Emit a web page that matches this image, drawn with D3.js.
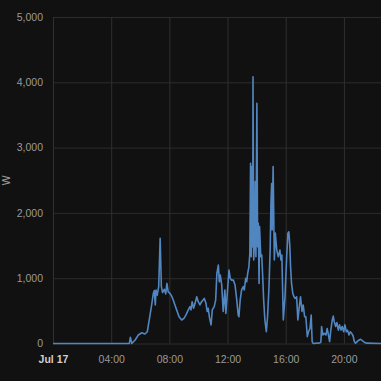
<!DOCTYPE html>
<html>
<head>
<meta charset="utf-8">
<script src="https://cdn.jsdelivr.net/npm/d3@7"></script>
<style>
	html, body { margin: 0; padding: 0; background: #111111; }
	svg { display: block; }
</style>
</head>
<body>
<div id="chart"></div>
<script>
// readings of Jul 17, time of day and power in W
const times = [
	"00:00", "05:15", "05:19", "05:25", "05:38", "05:52", "06:06", "06:19", "06:29", "06:37",
	"06:47", "06:54", "06:58", "07:02", "07:05", "07:10", "07:16", "07:22", "07:27", "07:32",
	"07:39", "07:45", "07:50", "07:55", "08:02", "08:09", "08:16", "08:23", "08:30", "08:40",
	"08:51", "09:00", "09:08", "09:18", "09:25", "09:29", "09:34", "09:40", "09:46", "09:53",
	"09:59", "10:06", "10:13", "10:24", "10:31", "10:36", "10:40", "10:46", "10:52", "10:57",
	"11:05", "11:11", "11:16", "11:22", "11:26", "11:30", "11:36", "11:42", "11:49", "11:53",
	"12:00", "12:06", "12:11", "12:17", "12:24", "12:31", "12:38", "12:44", "12:47", "12:52",
	"12:58", "13:05", "13:09", "13:15", "13:19", "13:23", "13:28", "13:32", "13:35", "13:38",
	"13:41", "13:44", "13:45", "13:48", "13:52", "13:54", "13:57", "14:01", "14:04", "14:07",
	"14:10", "14:12", "14:17", "14:21", "14:25", "14:29", "14:34", "14:40", "14:45", "14:51",
	"14:56", "14:59", "15:02", "15:04", "15:08", "15:13", "15:17", "15:23", "15:29", "15:36",
	"15:40", "15:44", "15:50", "15:57", "16:04", "16:09", "16:13", "16:17", "16:20", "16:24",
	"16:29", "16:34", "16:39", "16:45", "16:50", "16:56", "17:01", "17:07", "17:12", "17:18",
	"17:23", "17:29", "17:34", "17:40", "17:45", "17:49", "17:53", "18:21", "18:25", "18:28",
	"18:33", "18:39", "18:46", "18:51", "18:55", "19:01", "19:06", "19:12", "19:16", "19:20",
	"19:26", "19:31", "19:37", "19:42", "19:48", "19:53", "19:59", "20:04", "20:10", "20:15",
	"20:21", "20:26", "20:32", "20:38", "20:43", "20:48", "20:59", "21:09", "21:17", "21:24",
	"21:34", "22:33"
];
const watts = [
	0, 0, 95, 0, 50, 130, 165, 145, 180, 360,
	590, 770, 810, 590, 820, 740, 870, 1610, 870, 780,
	830, 760, 920, 790, 770, 730, 665, 590, 515, 410,
	360, 385, 435, 515, 565, 515, 640, 540, 615, 715,
	640, 590, 640, 690, 615, 490, 540, 385, 285, 515,
	565, 665, 1075, 1200, 945, 1050, 895, 490, 820, 460,
	820, 1125, 1000, 970, 970, 895, 665, 435, 410, 665,
	820, 870, 820, 1000, 945, 1075, 1175, 1380, 2760, 1330,
	2710, 1480, 4085, 1280, 1635, 2480, 1330, 3680, 1480, 1840,
	920, 1790, 1330, 1355, 1025, 665, 360, 180, 410, 870,
	1480, 2145, 2450, 1740, 2710, 1280, 1690, 1430, 1330, 1430,
	1280, 1355, 360, 715, 1330, 1690, 1710, 1480, 1175, 920,
	770, 715, 690, 715, 360, 565, 715, 490, 590, 410,
	410, 105, 180, 230, 435, 30, 0, 10, 20, 260,
	130, 155, 130, 230, 155, 30, 205, 360, 420, 335,
	260, 320, 205, 285, 205, 260, 180, 285, 180, 205,
	130, 180, 155, 115, 30, 5, 45, 65, 40, 20,
	5, 0
];
const yTicks = [0, 1000, 2000, 3000, 4000, 5000];
const xTickHours = [0, 4, 8, 12, 16, 20];

const WIDTH = 381;
const HEIGHT = 381;
const margin = {top: 17, right: 0, bottom: 37.5, left: 53};
const LINE_COLOR = "#5286c1";
const GRID_COLOR = "#2c2c2c";
const TEXT_COLOR = "#9a9a9a";
const FONT_FAMILY = "Inter, Roboto, sans-serif";

const day = "2021-07-17";
const parseTime = d3.timeParse("%Y-%m-%d %H:%M");
const data = times.map((t, i) => ({time: parseTime(`${day} ${t}`), value: watts[i]}));

const svg = d3.select("#chart").append("svg")
	.attr("width", WIDTH)
	.attr("height", HEIGHT)
	.style("font-family", FONT_FAMILY);

svg.append("rect")
	.attr("width", WIDTH)
	.attr("height", HEIGHT)
	.attr("fill", "#111111");

const x = d3.scaleTime()
	.domain([parseTime(`${day} 00:00`), parseTime(`${day} 22:33`)])
	.range([margin.left, WIDTH - margin.right]);

const y = d3.scaleLinear()
	.domain([0, 5000])
	.range([HEIGHT - margin.bottom, margin.top]);

// y axis with horizontal grid
svg.append("g")
	.attr("class", "y-axis")
	.attr("transform", `translate(${margin.left},0)`)
	.call(d3.axisLeft(y)
		.tickValues(yTicks)
		.tickFormat(d3.format(","))
		.tickSize(-(WIDTH - margin.left - margin.right))
		.tickPadding(10))
	.call(g => g.select(".domain").remove())
	.call(g => g.selectAll("line").attr("stroke", GRID_COLOR))
	.call(g => g.selectAll("text")
		.attr("fill", TEXT_COLOR)
		.style("font-size", "10.5px"));

// x axis with vertical grid
const xTickValues = xTickHours.map(h => d3.timeHour.offset(parseTime(`${day} 00:00`), h));
svg.append("g")
	.attr("class", "x-axis")
	.attr("transform", `translate(0,${HEIGHT - margin.bottom})`)
	.call(d3.axisBottom(x)
		.tickValues(xTickValues)
		.tickFormat(d => d.getHours() === 0 ? "Jul 17" : d3.timeFormat("%H:%M")(d))
		.tickSize(-(HEIGHT - margin.top - margin.bottom))
		.tickPadding(12))
	.call(g => g.select(".domain").remove())
	.call(g => g.selectAll("line").attr("stroke", "#303030"))
	.call(g => g.selectAll("text")
		.attr("fill", d => d.getHours() === 0 ? "#cfcfcf" : TEXT_COLOR)
		.style("font-weight", d => d.getHours() === 0 ? "bold" : "normal")
		.style("font-size", "10.5px"));

// axis title
svg.append("text")
	.attr("class", "yaxis-title")
	.attr("transform", `translate(10,${(margin.top + HEIGHT - margin.bottom) / 2}) rotate(-90)`)
	.attr("text-anchor", "middle")
	.attr("fill", TEXT_COLOR)
	.style("font-size", "10.5px")
	.text("W");

const line = d3.line()
	.x(d => x(d.time))
	.y(d => y(d.value));

svg.append("path")
	.datum(data)
	.attr("fill", "none")
	.attr("stroke", LINE_COLOR)
	.attr("stroke-width", 1.6)
	.attr("stroke-linejoin", "round")
	.attr("d", line);
</script>
</body>
</html>
